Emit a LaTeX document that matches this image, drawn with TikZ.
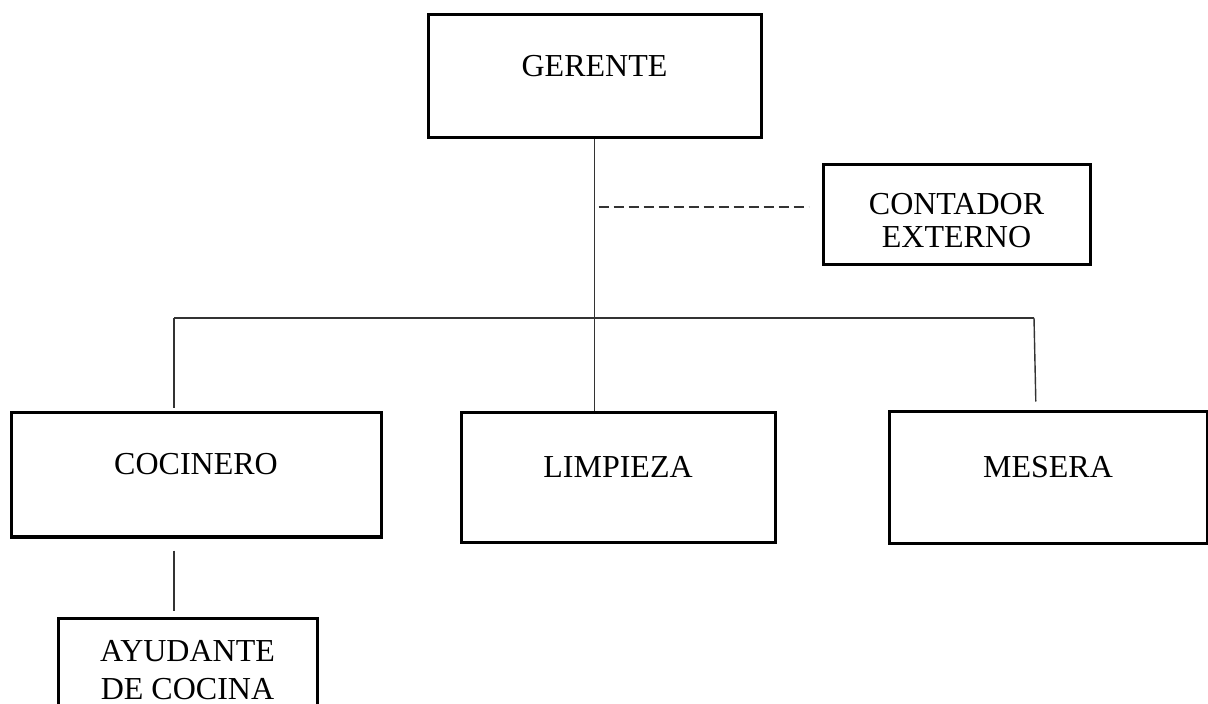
\documentclass[tikz,border=0pt]{standalone}
\usepackage{fontspec}
\setmainfont{Liberation Serif}
\usetikzlibrary{positioning, calc}
\tikzset{
Box/.style = {
draw,
line width=1.5pt,
rectangle,
inner sep=0pt,
text height=0pt,
text depth=0pt,
font=\fontsize{16}{16.5}\selectfont},
Link/.style = {line width=0.7pt, black!80},
DashLink/.style = {Link, dash pattern=on 5pt off 2.5pt}}
\newcommand{\twolines}[2]{\begin{tabular}[t]{@{}c@{}}#1\\#2\end{tabular}}

\begin{document}
\begin{tikzpicture}[x=0.5pt, y=-0.5pt]
    \useasboundingbox (0,0) rectangle (1208,704);
    \node [Box, minimum width=166.5pt, minimum height=61.5pt] (ger) at (594.5,76.5) {GERENTE};
    \node [Box, minimum width=133.5pt, minimum height=50pt] (cont) at (956.5,215) {\twolines{CONTADOR}{EXTERNO}};
    \node [Box, minimum width=185pt, minimum height=62pt] (coc) at (196,475) {COCINERO};
    \node [Box, minimum width=157pt, minimum height=64.5pt] (lim) at (618,477.5) {LIMPIEZA};
    \node [Box, minimum width=159pt, minimum height=65.5pt] (mes) at (1048,477.5) {MESERA};
    \node [Box, anchor=north, text depth=12pt, minimum width=129.5pt, minimum height=55pt] (ayu) at (187.5,617)
        {\def\arraystretch{1.15}\twolines{AYUDANTE}{DE COCINA}};
    \coordinate (barL) at (174,318);
    \coordinate (barR) at (1034,318);
    \coordinate (dashR) at ([xshift=-6.5pt, yshift=4pt]cont.west);
    \draw[Link] (ger.south) -- (ger.south |- lim.north);
    \draw[DashLink, shorten <=2pt] (ger.south |- dashR) -- (dashR);
    \draw[Link] (barL) -- (barR);
    \draw[Link, shorten >=1.5pt] (barL) -- (barL |- coc.north);
        \draw[Link, shorten >=4.5pt] (barR) -- ([xshift=1pt]barR |- mes.north);
    \draw[Link, shorten <=6pt, shorten >=3pt] ([xshift=-11pt]coc.south) -- ([xshift=-6.75pt]ayu.north);
\end{tikzpicture}
\end{document}
